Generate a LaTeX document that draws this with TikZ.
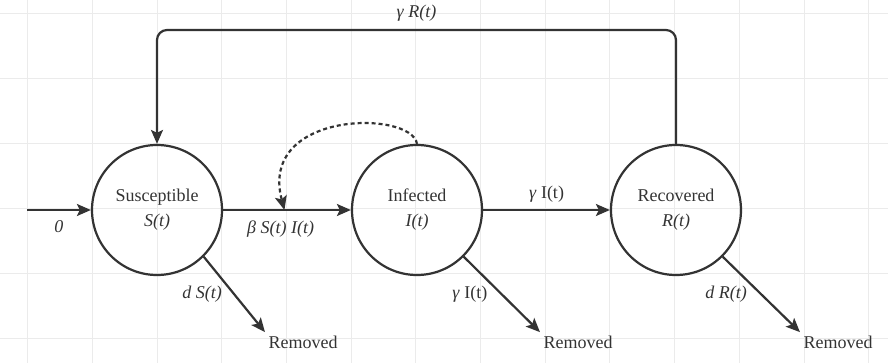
\documentclass[tikz,border=0pt]{standalone}
\usepackage{fontspec}
\setmainfont{Liberation Serif}
\usetikzlibrary{arrows.meta}
\definecolor{ink}{HTML}{333333}
\tikzset{
    state/.style={circle, draw=ink, line width=2.2pt, minimum size=130pt, inner sep=0pt,
        align=center, text=ink, font=\fontsize{18}{20}\selectfont},
    flow/.style={draw=ink, line width=2.2pt, -{Stealth[length=14pt,width=12pt,inset=3pt]}},
    lbl/.style={text=ink, font=\fontsize{18}{20}\selectfont},
    gridline/.style={draw=black!8, line width=0.8pt},
}

\begin{document}
\begin{tikzpicture}[x=1pt, y=-1pt]
    \def\rowY{210}
    \def\topY{30}
    \useasboundingbox (0,0) rectangle (888,363);

    % Background grid
    \foreach \gx in {0,...,13} \draw[gridline] ({27.5+64.7*\gx},0) -- ({27.5+64.7*\gx},363);
    \foreach \gy in {0,...,5} \draw[gridline] (0,{13+65*\gy}) -- (888,{13+65*\gy});

    % Define the compartments
    \node[state] (S) at (157,\rowY) {Susceptible\\[5pt]\textit{S(t)}};
    \node[state] (I) at (417,\rowY) {Infected\\[5pt]\textit{I(t)}};
    \node[state] (R) at (676,\rowY) {Recovered\\[5pt]\textit{R(t)}};

    % Outlets
    \node[lbl] (remS) at (303,342) {Removed};
    \node[lbl] (remI) at (578,342) {Removed};
    \node[lbl] (remR) at (838,342) {Removed};
    \coordinate (in) at (27,\rowY);
    \coordinate (top) at (0,\topY);

    % Draw the flows
    \draw[flow] (in) -- (S) node[midway, below=6pt, lbl] {\textit{0}};
    \draw[flow] (S) -- (I) coordinate[pos=0.48] (mix)
        node[pos=0.45, below=6pt, lbl] {\textit{β S(t) I(t)}};
    \draw[flow] (I) -- (R) node[midway, above=3pt, lbl] {\textit{γ} I(t)};

    \draw[flow] (S.-45) -- (remS.north west) node[midway, left=8pt, lbl] {\textit{d S(t)}};
    \draw[flow] (I.-45) -- (remI.north west) node[midway, left=10pt, lbl] {\textit{γ} I(t)};
    \draw[flow] (R.-45) -- (remR.north west) node[midway, left=10pt, lbl] {\textit{d R(t)}};

    % Feedback from recovered
    \draw[flow, rounded corners=10pt] (R.north) -- (R.north |- top) -- (S.north |- top)
        node[midway, above=4pt, lbl] {\textit{γ R(t)}} -- (S.north);

    % Contact with infected
    \draw[ink, line width=2.2pt, dash pattern=on 4pt off 3pt, -{Stealth[length=14pt,width=12pt,inset=3pt]}]
        (I.north) .. controls (412,110) and (258,110) .. (mix);
\end{tikzpicture}
\end{document}
